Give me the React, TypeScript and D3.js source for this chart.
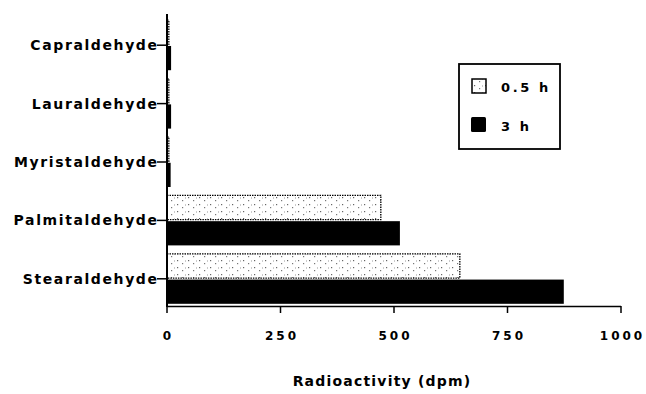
import React from 'react';
import * as d3 from 'd3';

const categories = ['Capraldehyde', 'Lauraldehyde', 'Myristaldehyde', 'Palmitaldehyde', 'Stearaldehyde'];
const seriesNames = ['0.5 h', '3 h'];
const values05h = [4, 4, 4, 471, 645];
const values3h = [9, 9, 8, 513, 874];
const xTicks = [0, 250, 500, 750, 1000];

const W = 646;
const H = 394;
const font = '"DejaVu Sans", "Liberation Sans", Arial, sans-serif';

const App = () => {
  const x = d3.scaleLinear().domain([0, 1000]).range([167, 621]);
  const y = d3.scaleBand<string>().domain(categories).range([16, 308]);
  const inner = d3.scaleBand<string>().domain(seriesNames).range([-25, 25]).paddingInner(0.06);
  const series = [values05h, values3h];

  return (
    <svg width={W} height={H} style={{ position: 'absolute', left: 0, top: 0, background: '#fff' }}>
      <defs>
        <pattern id="stipple" width="11" height="7" patternUnits="userSpaceOnUse">
          <rect width="11" height="7" fill="#fff" />
          <rect x="1" y="1" width="1.2" height="1.2" fill="#666" />
          <rect x="6" y="4" width="1.2" height="1.2" fill="#777" />
          <rect x="9" y="1.5" width="1" height="1" fill="#999" />
        </pattern>
      </defs>

      {categories.map((c, i) => {
        const cy = y(c)! + y.bandwidth() / 2;
        return (
          <g key={c}>
            {series.map((vals, s) => (
              <rect
                key={s}
                x={x(0)}
                y={cy + inner(seriesNames[s])!}
                width={x(vals[i]) - x(0)}
                height={inner.bandwidth()}
                fill={s === 0 ? 'url(#stipple)' : '#000'}
                stroke="#000"
                strokeWidth={s === 0 ? 1.3 : 0}
                strokeDasharray={s === 0 ? '1.5 1' : undefined}
              />
            ))}
            <line x1={157} x2={x(0)} y1={cy} y2={cy} stroke="#000" strokeWidth={1.5} />
            <text
              x={157 + 1.6}
              y={cy}
              dy="0.35em"
              textAnchor="end"
              fontFamily={font}
              fontWeight="bold"
              fontSize={14}
              letterSpacing={1.6}
            >
              {c}
            </text>
          </g>
        );
      })}

      {/* y axis */}
      <line x1={x(0)} x2={x(0)} y1={14} y2={307} stroke="#000" strokeWidth={2} />
      {/* x axis */}
      <line x1={x(0)} x2={x(1000)} y1={306.5} y2={306.5} stroke="#000" strokeWidth={1.6} />
      {xTicks.map(t => (
        <g key={t}>
          <line x1={x(t)} x2={x(t)} y1={306} y2={313} stroke="#000" strokeWidth={1.5} />
          <text
            x={x(t) + 1.5}
            y={340}
            textAnchor="middle"
            fontFamily={font}
            fontWeight="bold"
            fontSize={12}
            letterSpacing={3}
          >
            {t}
          </text>
        </g>
      ))}
      <text
        x={382}
        y={386}
        textAnchor="middle"
        fontFamily={font}
        fontWeight="bold"
        fontSize={14}
        letterSpacing={1.2}
      >
        Radioactivity (dpm)
      </text>

      {/* legend */}
      <rect x={459} y={64} width={101} height={85} fill="#fff" stroke="#000" strokeWidth={1.8} />
      <rect x={472} y={79} width={14} height={14} fill="url(#stipple)" stroke="#000" strokeWidth={1.5} />
      <text x={501} y={92} fontFamily={font} fontWeight="bold" fontSize={13} letterSpacing={2.6}>
        {seriesNames[0]}
      </text>
      <rect x={471} y={117} width={15} height={15} fill="#000" rx={1.5} />
      <text x={501} y={131} fontFamily={font} fontWeight="bold" fontSize={13} letterSpacing={2.6}>
        {seriesNames[1]}
      </text>
    </svg>
  );
};

export default App;
